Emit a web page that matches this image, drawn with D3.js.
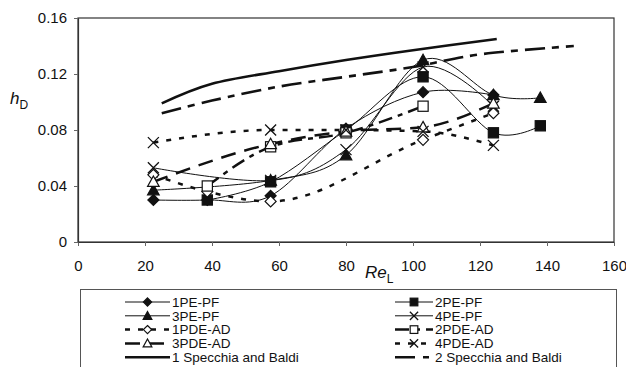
<!DOCTYPE html>
<html><head><meta charset="utf-8">
<script src="https://cdn.jsdelivr.net/npm/d3@7"></script>
<style>
body{margin:0;background:#fff}
svg text{font-family:"Liberation Sans",Arial,sans-serif;fill:#111}
</style></head>
<body><svg id="c" width="626" height="367"></svg>
<script>
// ---- data ----
const xTicks = [0, 20, 40, 60, 80, 100, 120, 140, 160];
const yTicks = [0, 0.04, 0.08, 0.12, 0.16];
const yTickLabels = ["0", "0.04", "0.08", "0.12", "0.16"];

const pe1X = [22.5, 38.6, 57.5, 80, 103, 124];
const pe1Y = [0.030, 0.030, 0.033, 0.081, 0.107, 0.105];
const pe2X = [38.6, 57.5, 80, 103, 124, 138];
const pe2Y = [0.030, 0.043, 0.080, 0.118, 0.078, 0.083];
const pe3X = [22.5, 57.5, 80, 103, 124, 138];
const pe3Y = [0.037, 0.044, 0.062, 0.130, 0.105, 0.103];
const pe4X = [22.5, 57.5, 80, 103, 124];
const pe4Y = [0.053, 0.044, 0.066, 0.125, 0.097];

const pde1X = [22.5, 38.6, 57.5, 103, 124];
const pde1Y = [0.048, 0.036, 0.029, 0.073, 0.092];
const pde2X = [38.6, 57.5, 80, 103];
const pde2Y = [0.040, 0.068, 0.078, 0.097];
const pde3X = [22.5, 57.5, 80, 103, 124];
const pde3Y = [0.043, 0.070, 0.079, 0.082, 0.099];
const pde4X = [22.5, 57.5, 80, 103, 124];
const pde4Y = [0.071, 0.080, 0.080, 0.079, 0.069];

const sb1X = [25, 40, 60, 80, 100, 125];
const sb1Y = [0.099, 0.113, 0.122, 0.130, 0.137, 0.145];
const sb2X = [25, 40, 60, 80, 100, 120, 148];
const sb2Y = [0.092, 0.101, 0.111, 0.118, 0.125, 0.134, 0.140];

const seriesNames = ["1PE-PF","2PE-PF","3PE-PF","4PE-PF","1PDE-AD","2PDE-AD","3PDE-AD","4PDE-AD","1 Specchia and Baldi","2 Specchia and Baldi"];

// ---- styles ----
const smooth = d3.curveCatmullRom.alpha(0);
const series = [
  {name:seriesNames[0], xs:pe1X, ys:pe1Y, marker:"diamond", fill:"#111", w:1, dash:null, curve:smooth},
  {name:seriesNames[1], xs:pe2X, ys:pe2Y, marker:"square", fill:"#111", w:1, dash:null, curve:smooth},
  {name:seriesNames[2], xs:pe3X, ys:pe3Y, marker:"triangle", fill:"#111", w:1, dash:null, curve:smooth},
  {name:seriesNames[3], xs:pe4X, ys:pe4Y, marker:"x", fill:"none", w:1, dash:null, curve:smooth},
  {name:seriesNames[4], xs:pde1X, ys:pde1Y, marker:"diamond", fill:"#fff", w:2.5, dash:"5,8", curve:d3.curveMonotoneX},
  {name:seriesNames[5], xs:pde2X, ys:pde2Y, marker:"square", fill:"#fff", w:2.5, dash:"14,6,5,6", curve:d3.curveMonotoneX},
  {name:seriesNames[6], xs:pde3X, ys:pde3Y, marker:"triangle", fill:"#fff", w:2.5, dash:"15,9", curve:d3.curveMonotoneX},
  {name:seriesNames[7], xs:pde4X, ys:pde4Y, marker:"x", fill:"none", w:2.5, dash:"5,8", curve:d3.curveMonotoneX},
  {name:seriesNames[8], xs:sb1X, ys:sb1Y, marker:null, w:2.6, dash:null, curve:smooth},
  {name:seriesNames[9], xs:sb2X, ys:sb2Y, marker:null, w:2.6, dash:"20,7,7,7", curve:smooth}
];

const svg = d3.select("#c");
const x = d3.scaleLinear().domain([0,160]).range([78,614]);
const y = d3.scaleLinear().domain([0,0.16]).range([242,18]);

// frame
svg.append("rect").attr("x",78).attr("y",18).attr("width",536).attr("height",224)
  .attr("fill","none").attr("stroke","#333").attr("stroke-width",1.2);

// axes
const gx = svg.append("g").attr("transform","translate(0,242)")
  .call(d3.axisBottom(x).tickValues(xTicks).tickSize(4).tickSizeOuter(0).tickPadding(14).tickFormat(d3.format("d")));
const gy = svg.append("g").attr("transform","translate(78,0)")
  .call(d3.axisLeft(y).tickValues(yTicks).tickSize(4).tickSizeOuter(0).tickPadding(7).tickFormat((d,i)=>yTickLabels[i]));
[gx,gy].forEach(g=>{
  g.select(".domain").attr("stroke","#333").attr("stroke-width",1.2);
  g.selectAll(".tick line").attr("stroke","#666");
  g.selectAll(".tick text").attr("font-size",15).attr("fill","#111");
});

// axis titles
const xt = svg.append("text").attr("x",365).attr("y",278).attr("font-size",17);
xt.append("tspan").attr("font-style","italic").text("Re");
xt.append("tspan").attr("font-size",12).attr("dy",5).text("L");
const yt = svg.append("text").attr("x",10).attr("y",104).attr("font-size",17);
yt.append("tspan").attr("font-style","italic").text("h");
yt.append("tspan").attr("font-size",12).attr("dy",5).text("D");

// marker drawing
function drawMarker(g, type, fill, cx, cy, s) {
  s = s || 1;
  if (type === "diamond") {
    const r = 5.5*s;
    g.append("path").attr("d",`M${cx},${cy-r}L${cx+r},${cy}L${cx},${cy+r}L${cx-r},${cy}Z`)
      .attr("fill",fill).attr("stroke","#111").attr("stroke-width",1.2);
  } else if (type === "square") {
    const r = 5.1*s;
    g.append("rect").attr("x",cx-r).attr("y",cy-r).attr("width",2*r).attr("height",2*r)
      .attr("fill",fill).attr("stroke","#111").attr("stroke-width",1.2);
  } else if (type === "triangle") {
    const r = 5.8*s;
    g.append("path").attr("d",`M${cx},${cy-r}L${cx+r},${cy+r*0.8}L${cx-r},${cy+r*0.8}Z`)
      .attr("fill",fill).attr("stroke","#111").attr("stroke-width",1.2);
  } else if (type === "x") {
    const r = 5.5*s;
    g.append("path").attr("d",`M${cx-r},${cy-r}L${cx+r},${cy+r}M${cx-r},${cy+r}L${cx+r},${cy-r}`)
      .attr("fill","none").attr("stroke","#111").attr("stroke-width",1.3);
  }
}

// lines
const gl = svg.append("g");
series.slice().reverse().forEach(s=>{
  const pts = s.xs.map((v,i)=>[v,s.ys[i]]);
  const line = d3.line().x(d=>x(d[0])).y(d=>y(d[1])).curve(s.curve);
  gl.append("path").datum(pts).attr("d",line).attr("fill","none")
    .attr("stroke","#111").attr("stroke-width",s.w)
    .attr("stroke-dasharray",s.dash);
});
// markers
const gm = svg.append("g");
series.forEach(s=>{
  if (!s.marker) return;
  s.xs.forEach((v,i)=>drawMarker(gm, s.marker, s.fill, x(v), y(s.ys[i])));
});

// legend
svg.append("rect").attr("x",80.5).attr("y",289.5).attr("width",536).attr("height",100)
  .attr("fill","#fff").attr("stroke","#555").attr("stroke-width",1);
const lg = svg.append("g");
series.forEach((s,i)=>{
  const col = i%2, row = Math.floor(i/2);
  const x0 = col===0 ? 125 : 395, x1 = col===0 ? 170 : 433;
  const cy = 302 + row*13.8;
  lg.append("line").attr("x1",x0).attr("x2",x1).attr("y1",cy).attr("y2",cy)
    .attr("stroke","#111").attr("stroke-width",s.w===1?1:2.5)
    .attr("stroke-dasharray", s.dash ? (s.name==="2 Specchia and Baldi" ? "20,8,6,30" : s.dash) : null);
  if (s.marker) drawMarker(lg, s.marker, s.fill, (x0+x1)/2, cy, 0.75);
  lg.append("text").attr("x",x1+2).attr("y",cy).attr("dy","0.36em").attr("font-size",13.5).text(s.name);
});
</script></body></html>
